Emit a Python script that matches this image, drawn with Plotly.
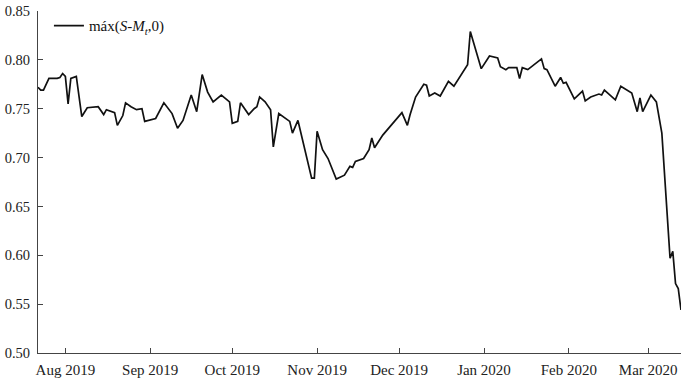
import plotly.graph_objects as go

dates = [
    "2019-07-22", "2019-07-23", "2019-07-24", "2019-07-26", "2019-07-29", "2019-07-30",
    "2019-07-31", "2019-08-01", "2019-08-02", "2019-08-03", "2019-08-05", "2019-08-07",
    "2019-08-09", "2019-08-13", "2019-08-15", "2019-08-16", "2019-08-19", "2019-08-20",
    "2019-08-22", "2019-08-23", "2019-08-25", "2019-08-27", "2019-08-29", "2019-08-30",
    "2019-09-03", "2019-09-06", "2019-09-09", "2019-09-11", "2019-09-13", "2019-09-16",
    "2019-09-18", "2019-09-20", "2019-09-22", "2019-09-24", "2019-09-27", "2019-09-30",
    "2019-10-01", "2019-10-03", "2019-10-04", "2019-10-07", "2019-10-09", "2019-10-10",
    "2019-10-11", "2019-10-13", "2019-10-15", "2019-10-16", "2019-10-18", "2019-10-22",
    "2019-10-23", "2019-10-25", "2019-10-30", "2019-10-31", "2019-11-01", "2019-11-03",
    "2019-11-05", "2019-11-07", "2019-11-08", "2019-11-11", "2019-11-13", "2019-11-14",
    "2019-11-15", "2019-11-18", "2019-11-20", "2019-11-21", "2019-11-22", "2019-11-25",
    "2019-12-02", "2019-12-04", "2019-12-05", "2019-12-07", "2019-12-10", "2019-12-11",
    "2019-12-12", "2019-12-14", "2019-12-16", "2019-12-19", "2019-12-21", "2019-12-26",
    "2019-12-27", "2019-12-31", "2020-01-03", "2020-01-06", "2020-01-07", "2020-01-09",
    "2020-01-10", "2020-01-13", "2020-01-14", "2020-01-15", "2020-01-17", "2020-01-22",
    "2020-01-23", "2020-01-24", "2020-01-27", "2020-01-29", "2020-01-30", "2020-01-31",
    "2020-02-03", "2020-02-06", "2020-02-07", "2020-02-09", "2020-02-12", "2020-02-13",
    "2020-02-14", "2020-02-18", "2020-02-20", "2020-02-24", "2020-02-26", "2020-02-27",
    "2020-02-28", "2020-03-02", "2020-03-04", "2020-03-06", "2020-03-09", "2020-03-10",
    "2020-03-11", "2020-03-12", "2020-03-13",
]

values = [
    0.772, 0.769, 0.769, 0.781, 0.781, 0.782,
    0.786, 0.783, 0.755, 0.781, 0.783, 0.742,
    0.751, 0.752, 0.744, 0.749, 0.746, 0.733,
    0.743, 0.756, 0.752, 0.749, 0.750, 0.737,
    0.740, 0.756, 0.745, 0.730, 0.738, 0.764,
    0.747, 0.785, 0.767, 0.757, 0.764, 0.757,
    0.735, 0.737, 0.756, 0.744, 0.750, 0.752,
    0.762, 0.757, 0.749, 0.711, 0.745, 0.737,
    0.725, 0.738, 0.679, 0.679, 0.727, 0.708,
    0.699, 0.686, 0.678, 0.682, 0.691, 0.690,
    0.696, 0.699, 0.708, 0.720, 0.710, 0.723,
    0.746, 0.733, 0.744, 0.762, 0.775, 0.774,
    0.763, 0.766, 0.763, 0.778, 0.773, 0.795,
    0.829, 0.791, 0.804, 0.802, 0.793, 0.790,
    0.792, 0.792, 0.781, 0.792, 0.790, 0.801,
    0.791, 0.790, 0.773, 0.782, 0.776, 0.777,
    0.760, 0.768, 0.758, 0.762, 0.765, 0.764,
    0.769, 0.759, 0.773, 0.766, 0.747, 0.761,
    0.747, 0.764, 0.757, 0.725, 0.597, 0.604,
    0.571, 0.566, 0.544,
]

x_tick_vals = ["2019-08-01", "2019-09-01", "2019-10-01", "2019-11-01", "2019-12-01",
               "2020-01-01", "2020-02-01", "2020-03-01"]
x_tick_text = ["Aug 2019", "Sep 2019", "Oct 2019", "Nov 2019", "Dec 2019",
               "Jan 2020", "Feb 2020", "Mar 2020"]
y_tick_vals = [0.50, 0.55, 0.60, 0.65, 0.70, 0.75, 0.80, 0.85]
y_tick_text = ["0.50", "0.55", "0.60", "0.65", "0.70", "0.75", "0.80", "0.85"]

series_name = "máx(<i>S</i>-<i>M</i><sub><i>t</i></sub>,0)"

FONT = "Liberation Serif, Times New Roman, serif"

fig = go.Figure()
fig.add_trace(go.Scatter(
    x=dates, y=values, mode="lines", name=series_name,
    line=dict(color="#111111", width=1.7),
    showlegend=True,
))

fig.update_layout(
    width=688, height=381,
    margin=dict(l=38, r=7, t=11, b=28, autoexpand=False),
    paper_bgcolor="white", plot_bgcolor="white",
    font=dict(family=FONT, size=14, color="#222222"),
    showlegend=True,
    legend=dict(
        x=0.017, y=1.005, xanchor="left", yanchor="top",
        bgcolor="rgba(0,0,0,0)", font=dict(family=FONT, size=15, color="#111111"),
        itemwidth=30, tracegroupgap=0,
    ),
    xaxis=dict(
        type="date", range=["2019-07-22", "2020-03-13"],
        tickmode="array", tickvals=x_tick_vals, ticktext=x_tick_text,
        ticks="inside", ticklen=5, tickcolor="#444444",
        showline=True, linecolor="#444444", linewidth=1,
        showgrid=False, zeroline=False, automargin=False,
        ticklabelstandoff=3,
        tickfont=dict(family=FONT, size=15, color="#222222"),
    ),
    yaxis=dict(
        range=[0.50, 0.85],
        tickmode="array", tickvals=y_tick_vals, ticktext=y_tick_text,
        ticks="inside", ticklen=5, tickcolor="#444444",
        showline=True, linecolor="#444444", linewidth=1,
        showgrid=False, zeroline=False, automargin=False,
        ticklabelstandoff=4,
        tickfont=dict(family=FONT, size=14.5, color="#222222"),
    ),
)

fig.write_html("out.html", config={"displayModeBar": False},
               post_script="document.body.style.margin='0';")
